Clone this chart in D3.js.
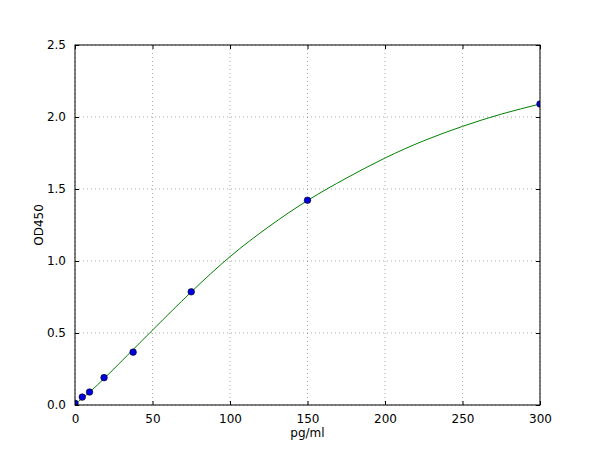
<!DOCTYPE html>
<html><head><meta charset="utf-8">
<script src="https://cdn.jsdelivr.net/npm/d3@7"></script>
<style>body{margin:0;background:#fff}svg{display:block}text{font-family:"DejaVu Sans",sans-serif;font-size:12px;fill:#000}</style>
</head><body>
<script>
const pointX = [0, 4.69, 9.38, 18.75, 37.5, 75, 150, 300];
const pointY = [0.012, 0.055, 0.09, 0.19, 0.367, 0.786, 1.422, 2.09];
const curveX = [0, 10, 25, 50, 75, 100, 125, 150, 175, 200, 225, 250, 275, 300];
const curveY = [0.005, 0.095, 0.25, 0.52, 0.785, 1.03, 1.238, 1.42, 1.575, 1.715, 1.835, 1.935, 2.02, 2.09];
const xTicks = [0, 50, 100, 150, 200, 250, 300];
const yTicks = [0.0, 0.5, 1.0, 1.5, 2.0, 2.5];
const xLabel = "pg/ml", yLabel = "OD450";

const W = 600, H = 450, L = 75, R = 540, T = 45, B = 405;
const svg = d3.select("body").append("svg").attr("width", W).attr("height", H);
const x = d3.scaleLinear().domain([0, 300]).range([L, R]);
const y = d3.scaleLinear().domain([0, 2.5]).range([B, T]);

svg.append("clipPath").attr("id", "clip").append("rect")
  .attr("x", L).attr("y", T).attr("width", R - L).attr("height", B - T);

// grid
const g = svg.append("g");
g.selectAll(".gx").data(xTicks).join("line")
  .attr("x1", d => x(d)).attr("x2", d => x(d)).attr("y1", T).attr("y2", B)
  .attr("stroke", "#000").attr("stroke-width", 0.6).attr("stroke-dasharray", "1,3").attr("opacity", 0.55);
g.selectAll(".gy").data(yTicks).join("line")
  .attr("y1", d => y(d)).attr("y2", d => y(d)).attr("x1", L).attr("x2", R)
  .attr("stroke", "#000").attr("stroke-width", 0.6).attr("stroke-dasharray", "1,3").attr("opacity", 0.55);

// axes
const ax = svg.append("g");
ax.append("g").attr("transform", `translate(0,${B})`)
  .call(d3.axisBottom(x).tickValues(xTicks).tickFormat(d3.format("d")).tickSizeInner(-4).tickSizeOuter(0).tickPadding(9));
ax.append("g").attr("transform", `translate(0,${T})`)
  .call(d3.axisTop(x).tickValues(xTicks).tickFormat("").tickSizeInner(-4).tickSizeOuter(0));
ax.append("g").attr("transform", `translate(${L},0)`)
  .call(d3.axisLeft(y).tickValues(yTicks).tickFormat(d3.format(".1f")).tickSizeInner(-4).tickSizeOuter(0).tickPadding(9));
ax.append("g").attr("transform", `translate(${R},0)`)
  .call(d3.axisRight(y).tickValues(yTicks).tickFormat("").tickSizeInner(-4).tickSizeOuter(0));
ax.selectAll(".domain").remove();
ax.selectAll("text").attr("font-family", "DejaVu Sans").attr("font-size", 12).attr("fill", "#000");
ax.selectAll("line").attr("stroke", "#000");

// curve
const pts = curveX.map((d, i) => [d, curveY[i]]);
svg.append("path").attr("clip-path", "url(#clip)")
  .attr("d", d3.line().x(d => x(d[0])).y(d => y(d[1])).curve(d3.curveNatural)(pts))
  .attr("fill", "none").attr("stroke", "#008000").attr("stroke-width", 1);

// points
svg.append("g").attr("clip-path", "url(#clip)")
  .selectAll("circle").data(pointX.map((d, i) => [d, pointY[i]])).join("circle")
  .attr("cx", d => x(d[0])).attr("cy", d => y(d[1])).attr("r", 3.3)
  .attr("fill", "#0000e0").attr("stroke", "#000").attr("stroke-width", 0.6);

// frame
svg.append("rect").attr("x", L).attr("y", T).attr("width", R - L).attr("height", B - T)
  .attr("fill", "none").attr("stroke", "#000").attr("stroke-width", 1);

svg.append("text").attr("x", (L + R) / 2).attr("y", 437).attr("text-anchor", "middle").text(xLabel);
svg.append("text").attr("transform", `translate(43,${(T + B) / 2}) rotate(-90)`).attr("text-anchor", "middle").text(yLabel);
</script>
</body></html>
